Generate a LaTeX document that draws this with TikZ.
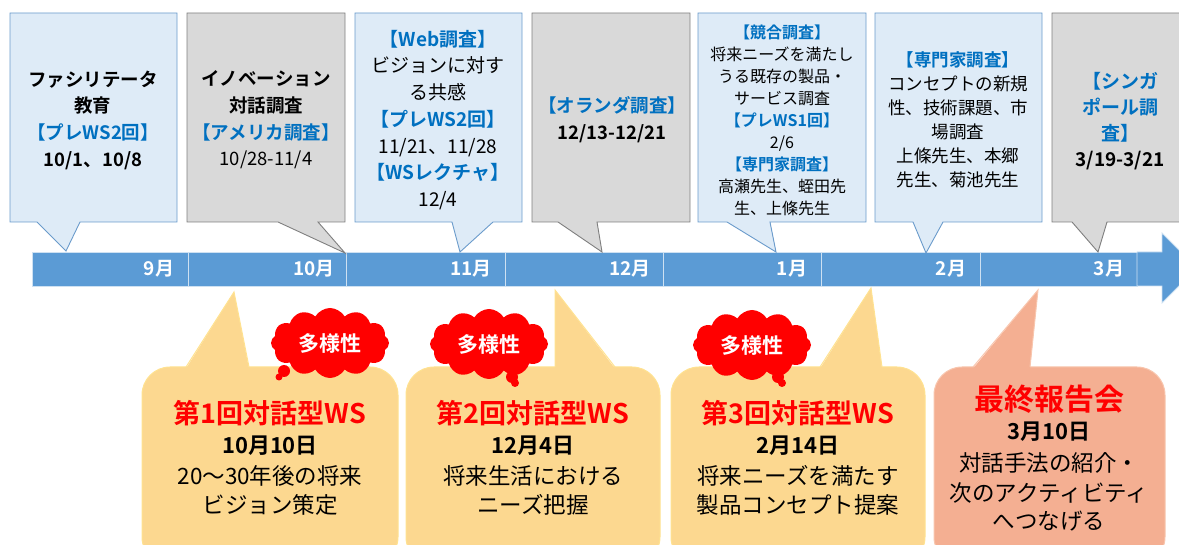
\documentclass[tikz,border=0pt]{standalone}
\usepackage{fontspec}
\setmainfont{Noto Sans CJK JP}[BoldFont={Noto Sans CJK JP Bold}]
\usetikzlibrary{shapes.symbols}
\definecolor{barblue}{HTML}{5B9BD5}
\definecolor{lblue}{HTML}{DEEBF7}
\definecolor{bborder}{HTML}{6A9BCB}
\definecolor{gfill}{HTML}{D9D9D9}
\definecolor{gborder}{HTML}{7F7F7F}
\definecolor{txtblue}{HTML}{0070C0}
\definecolor{wsfill}{HTML}{FCD890}
\definecolor{wsborder}{HTML}{FFE291}
\definecolor{finfill}{HTML}{F4AF92}
\definecolor{finborder}{HTML}{F8C6AE}
\newcommand\blu[1]{\textcolor{txtblue}{\bfseries #1}}
\begin{document}
\begin{tikzpicture}[x=1pt,y=-1pt,
  bluecall/.style={fill=lblue, draw=bborder, line width=0.9pt},
  graycall/.style={fill=gfill, draw=gborder, line width=0.9pt},
  seg/.style={fill=barblue, draw=white!70!barblue, line width=0.8pt},
  mon/.style={text=white, font=\bfseries\fontsize{19}{20}\selectfont, inner sep=0},
  toptxt/.style={align=center, inner sep=0, font=\fontsize{18.5}{26.7}\selectfont},
  wsbox/.style={fill=wsfill, draw=wsborder, line width=1pt, rounded corners=28pt},
  finbox/.style={fill=finfill, draw=finborder, line width=1pt, rounded corners=28pt},
  cloudred/.style={cloud, cloud puffs=12, cloud puff arc=120, aspect=1.75, fill=red, draw=none, minimum width=118pt, minimum height=70pt, inner sep=0},
  cloudtxt/.style={text=white, font=\bfseries\fontsize{21}{24}\selectfont, inner sep=0},
  wstitle/.style={text=red, font=\bfseries\fontsize{27}{30}\selectfont, inner sep=0},
  fintitle/.style={text=red, font=\bfseries\fontsize{30}{32}\selectfont, inner sep=0},
  wsdate/.style={font=\bfseries\fontsize{22}{24}\selectfont, inner sep=0},
  wsline/.style={font=\fontsize{22.5}{26}\selectfont, inner sep=0}
]
\useasboundingbox (0,0) rectangle (1179,545);
\clip (0,0) rectangle (1179,545);

% timeline bar
\draw[seg] (32,252) rectangle (188,286);
\draw[seg] (188,252) rectangle (346,286);
\draw[seg] (346,252) rectangle (505,286);
\draw[seg] (505,252) rectangle (663,286);
\draw[seg] (663,252) rectangle (821,286);
\draw[seg] (821,252) rectangle (980,286);
\draw[seg] (980,252) rectangle (1137,286);
\draw[seg] (1137,252) -- (1162,252) -- (1162,233) -- (1197,268) -- (1162,303) -- (1162,286) -- (1137,286) -- cycle;
\node[mon] (m9) at (159,269) {9月};
\node[mon] (m10) at (314,269) {10月};
\node[mon] (m11) at (471,269) {11月};
\node[mon] (m12) at (630,269) {12月};
\node[mon] (m1) at (792,269) {1月};
\node[mon] (m2) at (951,269) {2月};
\node[mon] (m3) at (1109,269) {3月};

% top callouts
\draw[bluecall] (10,13) -- (177,13) -- (177,222) -- (80,222) -- (66,251) -- (37,222) -- (10,222) -- cycle;
\draw[graycall] (187,13) -- (345,13) -- (345,222) -- (318,222) -- (345,253) -- (278,222) -- (187,222) -- cycle;
\draw[bluecall] (355,13) -- (522,13) -- (522,222) -- (493,222) -- (460,252) -- (452,222) -- (355,222) -- cycle;
\draw[graycall] (532,13) -- (690,13) -- (690,222) -- (597,222) -- (602,252) -- (558,222) -- (532,222) -- cycle;
\draw[bluecall] (698,13) -- (866,13) -- (866,222) -- (770,222) -- (776,252) -- (727,222) -- (698,222) -- cycle;
\draw[bluecall] (875,13) -- (1042,13) -- (1042,222) -- (943,222) -- (926,253) -- (913,222) -- (875,222) -- cycle;
\draw[graycall] (1052,13) -- (1200,13) -- (1200,222) -- (1107,222) -- (1098,252) -- (1072,222) -- (1052,222) -- cycle;

\node[toptxt] (t1) at (93,120) {\textbf{ファシリテータ}\\\textbf{教育}\\\blu{【プレWS2回】}\\\textbf{10/1、10/8}};
\node[toptxt] (t2) at (266,120) {\textbf{イノベーション}\\\textbf{対話調査}\\\blu{【アメリカ調査】}\\10/28-11/4};
\node[toptxt, font=\fontsize{19}{26.7}\selectfont] (t3) at (438,120) {\blu{【Web調査】}\\ビジョンに対す\\る共感\\\blu{【プレWS2回】}\\11/21、11/28\\\blu{【WSレクチャ】}\\12/4};
\node[toptxt] (t4) at (612,120) {\blu{【オランダ調査】}\\\textbf{12/13-12/21}};
\node[toptxt, font=\fontsize{16}{22}\selectfont] (t5) at (782,120) {\blu{【競合調査】}\\将来ニーズを満たし\\うる既存の製品・\\サービス調査\\\blu{【プレWS1回】}\\2/6\\\blu{【専門家調査】}\\高瀬先生、蛭田先\\生、上條先生};
\node[toptxt, font=\fontsize{17.5}{24}\selectfont] (t6) at (958,120) {\blu{【専門家調査】}\\コンセプトの新規\\性、技術課題、市\\場調査\\上條先生、本郷\\先生、菊池先生};
\node[toptxt, font=\fontsize{19}{26}\selectfont] (t7) at (1120,121) {\blu{【シンガ}\\\blu{ポール調}\\\blu{査】}\\\textbf{3/19-3/21}};

% bottom callouts
\draw[wsbox] (142,367) rectangle (398,565);
\fill[wsfill] (186,368.5) -- (234,292) -- (249,368.5) -- cycle;
\draw[wsborder, line width=1pt] (186,367) -- (234,292) -- (249,367);

\draw[wsbox] (406,367) rectangle (660,565);
\fill[wsfill] (555,368.5) -- (555,290) -- (615,368.5) -- cycle;
\draw[wsborder, line width=1pt] (555,367) -- (555,290) -- (615,367);

\draw[wsbox] (671,367) rectangle (925,565);
\fill[wsfill] (820,368.5) -- (871,288) -- (882,368.5) -- cycle;
\draw[wsborder, line width=1pt] (820,367) -- (871,288) -- (882,367);

\draw[finbox] (934,367) rectangle (1165,565);
\fill[finfill] (973,368.5) -- (1038,290) -- (1030,368.5) -- cycle;
\draw[finborder, line width=1pt] (973,367) -- (1038,290) -- (1030,367);

% clouds
\node[cloudred] (c1) at (330,343) {};
\fill[red] (284,371) circle (6);
\fill[red] (279,377) circle (3.5);
\node[cloudtxt] (c1t) at (330,344) {多様性};
\node[cloudred] (c2) at (489,344) {};
\fill[red] (512,377) circle (6);
\fill[red] (515,383) circle (4);
\node[cloudtxt] (c2t) at (489,345) {多様性};
\node[cloudred] (c3) at (752,345) {};
\fill[red] (778,377) circle (6);
\fill[red] (782,383) circle (4);
\node[cloudtxt] (c3t) at (752,346) {多様性};

% bottom texts
\node[wstitle] (w1a) at (270,413) {第1回対話型WS};
\node[wsdate] (w1b) at (270,446) {10月10日};
\node[wsline] (w1c) at (270,476) {20〜30年後の将来};
\node[wsline] (w1d) at (270,505) {ビジョン策定};

\node[wstitle] (w2a) at (533,413) {第2回対話型WS};
\node[wsdate] (w2b) at (533,446) {12月4日};
\node[wsline] (w2c) at (533,476) {将来生活における};
\node[wsline] (w2d) at (533,505) {ニーズ把握};

\node[wstitle] (w3a) at (798,413) {第3回対話型WS};
\node[wsdate] (w3b) at (798,446) {2月14日};
\node[wsline] (w3c) at (798,476) {将来ニーズを満たす};
\node[wsline] (w3d) at (798,505) {製品コンセプト提案};

\node[fintitle] (f1) at (1049,399) {最終報告会};
\node[wsdate] (f2) at (1049,432) {3月10日};
\node[wsline] (f3) at (1049,463) {対話手法の紹介・};
\node[wsline] (f4) at (1049,493) {次のアクティビティ};
\node[wsline] (f5) at (1049,521) {へつなげる};
\end{tikzpicture}
\end{document}
